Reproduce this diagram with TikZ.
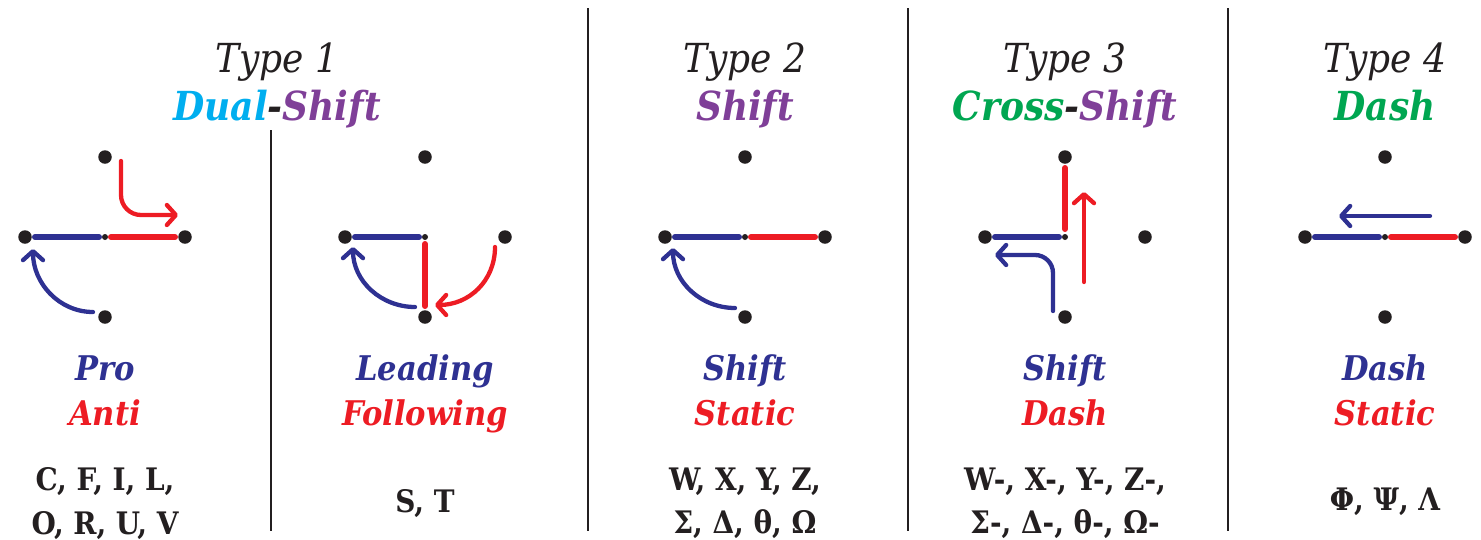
\documentclass[tikz,border=0pt]{standalone}
\usepackage{fontspec}
\setmainfont{DejaVu Serif Condensed}
\usetikzlibrary{arrows.meta}
\definecolor{cblue}{HTML}{2E3192}
\definecolor{cred}{HTML}{ED1C24}
\definecolor{ccyan}{HTML}{00AEEF}
\definecolor{cpurple}{HTML}{7F3F98}
\definecolor{cgreen}{HTML}{00A651}
\definecolor{cblack}{HTML}{231F20}
\tikzset{
  bigdot/.style={circle,fill=cblack,inner sep=0pt,minimum size=13.5pt},
  smalldot/.style={circle,fill=cblack,inner sep=0pt,minimum size=6pt},
  seg/.style={line width=6pt,line cap=round},
  arr/.style={line width=4.3pt,line cap=round,-{Straight Barb[length=9pt,width=20pt,round]}},
  divider/.style={line width=2.5pt,cblack},
  head/.style={anchor=base,font=\fontsize{40}{44}\selectfont\itshape,text=cblack},
  sub/.style={anchor=base,font=\fontsize{40}{44}\selectfont\bfseries\itshape},
  role/.style={anchor=base,font=\fontsize{34}{38}\selectfont\bfseries\itshape},
  lett/.style={anchor=base,font=\fontsize{31}{36}\selectfont\bfseries,text=cblack},
}
\newcommand{\mydots}{%
  \node[bigdot] (T) at (0,-80) {};
  \node[bigdot] (L) at (-80,0) {};
  \node[bigdot] (R) at (80,0) {};
  \node[bigdot] (B) at (0,80) {};
  \node[smalldot] (C) at (0,0) {};
}
\begin{document}
\begin{tikzpicture}[x=1pt,y=-1pt]
\useasboundingbox (0,0) rectangle (1481,539);
% dividers
\coordinate (d1a) at (271,130); \coordinate (d1b) at (271,531);
\coordinate (d2a) at (588,8); \coordinate (d2b) at (588,531);
\coordinate (d3a) at (908,8); \coordinate (d3b) at (908,531);
\coordinate (d4a) at (1228,8); \coordinate (d4b) at (1228,531);
\draw[divider] (d1a) -- (d1b);
\draw[divider] (d2a) -- (d2b);
\draw[divider] (d3a) -- (d3b);
\draw[divider] (d4a) -- (d4b);
% headings
\node[head] (h1) at (277,72) {Type 1};
\node[sub] (s1) at (277,120) {\textcolor{ccyan}{Dual}\textcolor{cblack}{-}\textcolor{cpurple}{Shift}};
\node[head] (h2) at (745,72) {Type 2};
\node[sub,text=cpurple] (s2) at (745,120) {Shift};
\node[head] (h3) at (1065,72) {Type 3};
\node[sub] (s3) at (1065,120) {\textcolor{cgreen}{Cross}\textcolor{cblack}{-}\textcolor{cpurple}{Shift}};
\node[head] (h4) at (1385,72) {Type 4};
\node[sub,text=cgreen] (s4) at (1385,120) {Dash};
% panel 1
\begin{scope}[shift={(105,237)}]
  \mydots
  \coordinate (b1) at (-70,0); \coordinate (b2) at (-6,0);
  \coordinate (r1) at (6,0); \coordinate (r2) at (70,0);
  \draw[seg,cblue] (b1) -- (b2);
  \draw[seg,cred] (r1) -- (r2);
  \coordinate (ra) at (16,-76); \coordinate (rc) at (16,-22); \coordinate (rb) at (73,-22);
  \draw[arr,cred,rounded corners=20pt] (ra) -- (rc) -- (rb);
  \coordinate (ba) at (-12,75); \coordinate (bb) at (-72,12);
  \draw[arr,cblue] (ba) .. controls (-46,75) and (-72,46) .. (bb);
  \node[role,text=cblue] (p1a) at (0,143) {Pro};
  \node[role,text=cred] (p1b) at (0,188) {Anti};
  \node[lett] (p1c) at (0,253) {C, F, I, L,};
  \node[lett] (p1d) at (0,297) {O, R, U, V};
\end{scope}
% panel 2
\begin{scope}[shift={(425,237)}]
  \mydots
  \coordinate (b1) at (-70,0); \coordinate (b2) at (-6,0);
  \coordinate (r1) at (0,7); \coordinate (r2) at (0,69);
  \draw[seg,cblue] (b1) -- (b2);
  \draw[seg,cred] (r1) -- (r2);
  \coordinate (ba) at (-10,70); \coordinate (bb) at (-72,10);
  \draw[arr,cblue] (ba) .. controls (-44,70) and (-72,44) .. (bb);
  \coordinate (ra) at (70,10); \coordinate (rb) at (10,68);
  \draw[arr,cred] (ra) .. controls (70,44) and (44,68) .. (rb);
  \node[role,text=cblue] (p2a) at (0,143) {Leading};
  \node[role,text=cred] (p2b) at (0,188) {Following};
  \node[lett] (p2c) at (0,275) {S, T};
\end{scope}
% panel 3
\begin{scope}[shift={(745,237)}]
  \mydots
  \coordinate (b1) at (-70,0); \coordinate (b2) at (-6,0);
  \coordinate (r1) at (6,0); \coordinate (r2) at (70,0);
  \draw[seg,cblue] (b1) -- (b2);
  \draw[seg,cred] (r1) -- (r2);
  \coordinate (ba) at (-10,71); \coordinate (bb) at (-72,11);
  \draw[arr,cblue] (ba) .. controls (-44,71) and (-72,45) .. (bb);
  \node[role,text=cblue] (p3a) at (0,143) {Shift};
  \node[role,text=cred] (p3b) at (0,188) {Static};
  \node[lett] (p3c) at (0,253) {W, X, Y, Z,};
  \node[lett] (p3d) at (0,296) {Σ, Δ, θ, Ω};
\end{scope}
% panel 4
\begin{scope}[shift={(1065,237)}]
  \mydots
  \coordinate (b1) at (-70,0); \coordinate (b2) at (-6,0);
  \coordinate (r1) at (0,-69); \coordinate (r2) at (0,-8);
  \draw[seg,cblue] (b1) -- (b2);
  \draw[seg,cred] (r1) -- (r2);
  \coordinate (ra) at (19,45); \coordinate (rb) at (19,-45);
  \draw[arr,cred] (ra) -- (rb);
  \coordinate (ba) at (-12,74); \coordinate (bc) at (-12,18); \coordinate (bb) at (-70,18);
  \draw[arr,cblue,rounded corners=18pt] (ba) -- (bc) -- (bb);
  \node[role,text=cblue] (p4a) at (0,143) {Shift};
  \node[role,text=cred] (p4b) at (0,188) {Dash};
  \node[lett] (p4c) at (0,253) {W-, X-, Y-, Z-,};
  \node[lett] (p4d) at (0,296) {Σ-, Δ-, θ-, Ω-};
\end{scope}
% panel 5
\begin{scope}[shift={(1385,237)}]
  \mydots
  \coordinate (b1) at (-70,0); \coordinate (b2) at (-6,0);
  \coordinate (r1) at (6,0); \coordinate (r2) at (70,0);
  \draw[seg,cblue] (b1) -- (b2);
  \draw[seg,cred] (r1) -- (r2);
  \coordinate (ba) at (45,-21); \coordinate (bb) at (-46,-21);
  \draw[arr,cblue] (ba) -- (bb);
  \node[role,text=cblue] (p5a) at (0,143) {Dash};
  \node[role,text=cred] (p5b) at (0,188) {Static};
  \node[lett] (p5c) at (0,273) {Φ, Ψ, Λ};
\end{scope}
\end{tikzpicture}
\end{document}
